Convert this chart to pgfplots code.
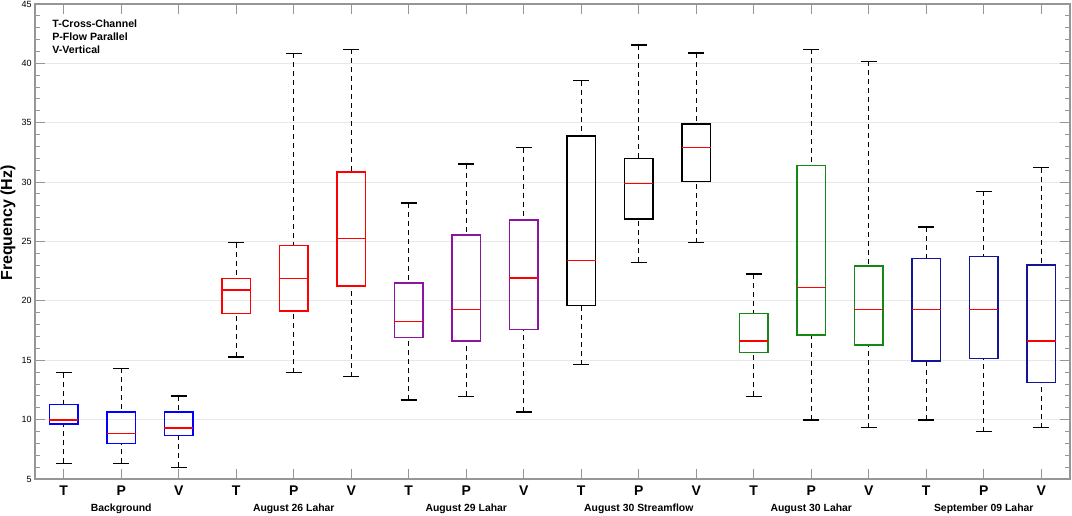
\documentclass[border=0pt]{standalone}
\usepackage{fontspec}
\setmainfont{Liberation Sans}
\usepackage{pgfplots}
\pgfplotsset{compat=1.18}
\usepgfplotslibrary{statistics}
\definecolor{cBg}{RGB}{0,0,255}
\definecolor{cA26}{RGB}{255,0,0}
\definecolor{cA29}{RGB}{140,20,160}
\definecolor{cStr}{RGB}{0,0,0}
\definecolor{cLah}{RGB}{20,135,20}
\definecolor{cSep}{RGB}{20,20,150}
\definecolor{axgray}{RGB}{150,150,150}
\pgfplotsset{
  mybox/.style={
    line width=0.8pt,
    boxplot/draw direction=y,
    boxplot/box extend=0.5,
    boxplot/whisker extend=0.28,
    boxplot/every median/.style={draw=red,line width=0.7pt},
    boxplot/draw/lower whisker/.code={%
      \draw[black,line width=0.6pt,dash pattern=on 2.5pt off 2pt]
        (boxplot whisker cs:\pgfplotsboxplotvalue{lower whisker},0.5)
        -- (boxplot whisker cs:\pgfplotsboxplotvalue{lower quartile},0.5);
      \draw[black,line width=0.6pt,solid]
        (boxplot whisker cs:\pgfplotsboxplotvalue{lower whisker},0)
        -- (boxplot whisker cs:\pgfplotsboxplotvalue{lower whisker},1);
    },
    boxplot/draw/upper whisker/.code={%
      \draw[black,line width=0.6pt,dash pattern=on 2.5pt off 2pt]
        (boxplot whisker cs:\pgfplotsboxplotvalue{upper whisker},0.5)
        -- (boxplot whisker cs:\pgfplotsboxplotvalue{upper quartile},0.5);
      \draw[black,line width=0.6pt,solid]
        (boxplot whisker cs:\pgfplotsboxplotvalue{upper whisker},0)
        -- (boxplot whisker cs:\pgfplotsboxplotvalue{upper whisker},1);
    },
  },
}
\begin{document}
\begin{tikzpicture}
\begin{axis}[
  at={(0,0)}, anchor=south west,
  scale only axis,
  width=517.5pt, height=237.5pt,
  xmin=0.5, xmax=18.5,
  ymin=5, ymax=45,
  xtick={1,...,18},
  xticklabels={T,P,V,T,P,V,T,P,V,T,P,V,T,P,V,T,P,V},
  ytick={5,10,...,45},
  minor y tick num=4,
  tick align=inside,
  major tick length=5pt,
  minor tick length=2.5pt,
  axis line style={draw=axgray, line width=0.6pt},
  every tick/.style={draw=axgray, line width=0.5pt},
  ymajorgrids,
  major grid style={draw=black!9, line width=0.5pt},
  xticklabel style={font=\bfseries\fontsize{7}{8}\selectfont, anchor=base, inner sep=0pt, yshift=-8pt},
  yticklabel style={font=\fontsize{4.5}{5}\selectfont, inner sep=1.5pt},
  /pgf/number format/assume math mode=true,
  ylabel={Frequency (Hz)},
  ylabel style={font=\bfseries\fontsize{8}{9}\selectfont, at={(axis description cs:-0.0261,0.539)}, anchor=center},
  clip=false,
]
\addplot[mybox, draw=cBg, boxplot prepared={draw position=1, lower whisker=6.32, lower quartile=9.63, median=9.97, upper quartile=11.29, upper whisker=13.95}] coordinates {};
\addplot[mybox, draw=cBg, boxplot prepared={draw position=2, lower whisker=6.32, lower quartile=8.0, median=8.82, upper quartile=10.62, upper whisker=14.32}] coordinates {};
\addplot[mybox, draw=cBg, boxplot prepared={draw position=3, lower whisker=5.98, lower quartile=8.65, median=9.29, upper quartile=10.62, upper whisker=11.99}] coordinates {};
\addplot[mybox, draw=cA26, boxplot prepared={draw position=4, lower whisker=15.27, lower quartile=18.95, median=20.92, upper quartile=21.9, upper whisker=24.9}] coordinates {};
\addplot[mybox, draw=cA26, boxplot prepared={draw position=5, lower whisker=13.95, lower quartile=19.17, median=21.9, upper quartile=24.65, upper whisker=40.85}] coordinates {};
\addplot[mybox, draw=cA26, boxplot prepared={draw position=6, lower whisker=13.62, lower quartile=21.25, median=25.24, upper quartile=30.85, upper whisker=41.19}] coordinates {};
\addplot[mybox, draw=cA29, boxplot prepared={draw position=7, lower whisker=11.65, lower quartile=16.93, median=18.25, upper quartile=21.5, upper whisker=28.24}] coordinates {};
\addplot[mybox, draw=cA29, boxplot prepared={draw position=8, lower whisker=11.96, lower quartile=16.62, median=19.26, upper quartile=25.55, upper whisker=31.53}] coordinates {};
\addplot[mybox, draw=cA29, boxplot prepared={draw position=9, lower whisker=10.64, lower quartile=17.6, median=21.93, upper quartile=26.81, upper whisker=32.9}] coordinates {};
\addplot[mybox, draw=cStr, boxplot prepared={draw position=10, lower whisker=14.63, lower quartile=19.6, median=23.42, upper quartile=33.86, upper whisker=38.55}] coordinates {};
\addplot[mybox, draw=cStr, boxplot prepared={draw position=11, lower whisker=23.25, lower quartile=26.9, median=29.9, upper quartile=32.0, upper whisker=41.55}] coordinates {};
\addplot[mybox, draw=cStr, boxplot prepared={draw position=12, lower whisker=24.9, lower quartile=30.04, median=32.9, upper quartile=34.87, upper whisker=40.87}] coordinates {};
\addplot[mybox, draw=cLah, boxplot prepared={draw position=13, lower whisker=11.96, lower quartile=15.64, median=16.62, upper quartile=18.92, upper whisker=22.26}] coordinates {};
\addplot[mybox, draw=cLah, boxplot prepared={draw position=14, lower whisker=9.97, lower quartile=17.13, median=21.11, upper quartile=31.39, upper whisker=41.19}] coordinates {};
\addplot[mybox, draw=cLah, boxplot prepared={draw position=15, lower whisker=9.32, lower quartile=16.28, median=19.26, upper quartile=22.94, upper whisker=40.17}] coordinates {};
\addplot[mybox, draw=cSep, boxplot prepared={draw position=16, lower whisker=9.97, lower quartile=14.96, median=19.26, upper quartile=23.58, upper whisker=26.22}] coordinates {};
\addplot[mybox, draw=cSep, boxplot prepared={draw position=17, lower whisker=8.98, lower quartile=15.16, median=19.26, upper quartile=23.75, upper whisker=29.23}] coordinates {};
\addplot[mybox, draw=cSep, boxplot prepared={draw position=18, lower whisker=9.32, lower quartile=13.11, median=16.62, upper quartile=23.0, upper whisker=31.22}] coordinates {};
\begin{scope}[every node/.style={font=\bfseries\fontsize{5.2}{6}\selectfont, anchor=base, inner sep=0pt}]
\node at (axis cs:2,5) [yshift=-16pt] {Background};
\node at (axis cs:5,5) [yshift=-16pt] {August 26 Lahar};
\node at (axis cs:8,5) [yshift=-16pt] {August 29 Lahar};
\node at (axis cs:11,5) [yshift=-16pt] {August 30 Streamflow};
\node at (axis cs:14,5) [yshift=-16pt] {August 30 Lahar};
\node at (axis cs:17,5) [yshift=-16pt] {September 09 Lahar};
\end{scope}
\begin{scope}[every node/.style={font=\bfseries\fontsize{5.3}{6}\selectfont, anchor=west, inner sep=0pt}]
\node at (rel axis cs:0.0164,0.958) {T-Cross-Channel};
\node at (rel axis cs:0.0164,0.9305) {P-Flow Parallel};
\node at (rel axis cs:0.0164,0.903) {V-Vertical};
\end{scope}
\end{axis}
\pgfresetboundingbox
\path (-17.5pt,-18pt) rectangle (518.5pt,239.5pt);
\end{tikzpicture}
\end{document}
